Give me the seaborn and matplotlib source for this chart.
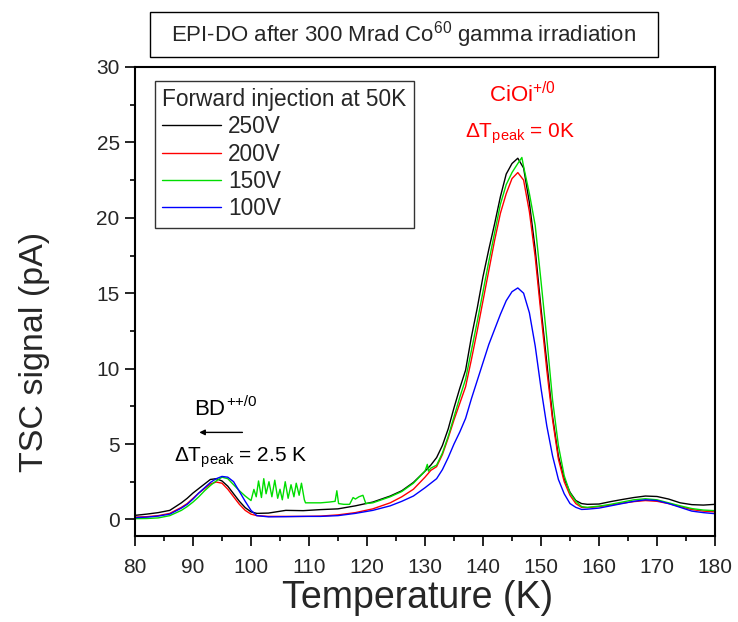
import numpy as np
import pandas as pd
import matplotlib
matplotlib.use("Agg")
import matplotlib.pyplot as plt
import seaborn as sns
from matplotlib.ticker import MultipleLocator
from matplotlib.patches import Rectangle

# ---- data ----
T = [80, 82, 84, 86, 88, 89, 90, 91, 92, 93, 94, 95, 96, 97, 98, 99, 100, 101,
     103, 106, 109, 112, 115, 118, 121, 124, 126, 128, 130, 131, 132, 133, 134,
     135, 136, 137, 138, 139, 140, 141, 142, 143, 144, 145, 146, 147, 148, 149,
     150, 151, 152, 153, 154, 155, 156, 157, 158, 160, 162, 164, 166, 168, 170,
     172, 174, 176, 178, 180]

v250 = [0.27, 0.35, 0.45, 0.6, 1.1, 1.4, 1.75, 2.05, 2.35, 2.65, 2.7, 2.55, 2.2,
        1.7, 1.2, 0.78, 0.5, 0.4, 0.42, 0.6, 0.58, 0.65, 0.7, 0.9, 1.15, 1.55,
        1.9, 2.45, 3.2, 3.6, 4.1, 4.9, 6.0, 7.4, 8.7, 9.9, 12.1, 14.0, 16.1,
        17.9, 19.6, 21.4, 22.9, 23.6, 23.95, 23.3, 21.0, 17.9, 14.0, 10.4, 6.8,
        4.2, 2.7, 1.8, 1.25, 1.05, 1.0, 1.02, 1.18, 1.32, 1.45, 1.55, 1.52,
        1.35, 1.1, 0.98, 0.95, 1.0]

v200 = [0.15, 0.18, 0.25, 0.4, 0.8, 1.05, 1.4, 1.75, 2.05, 2.35, 2.48, 2.4, 2.0,
        1.5, 1.0, 0.6, 0.35, 0.25, 0.2, 0.2, 0.2, 0.22, 0.3, 0.45, 0.7, 1.1,
        1.5, 2.0, 2.8, 3.25, 3.5, 4.3, 5.4, 6.6, 7.7, 8.8, 10.6, 12.5, 14.5,
        16.5, 18.5, 20.3, 21.6, 22.6, 23.0, 22.5, 20.4, 17.4, 13.6, 9.9, 6.6,
        4.0, 2.5, 1.6, 1.05, 0.8, 0.78, 0.85, 0.95, 1.08, 1.18, 1.25, 1.2,
        1.05, 0.85, 0.65, 0.55, 0.5]

v100 = [0.12, 0.15, 0.22, 0.35, 0.75, 1.0, 1.35, 1.75, 2.1, 2.45, 2.7, 2.85, 2.8,
        2.5, 1.85, 1.2, 0.6, 0.25, 0.17, 0.18, 0.2, 0.2, 0.25, 0.4, 0.6, 0.9,
        1.2, 1.55, 2.1, 2.4, 2.7, 3.3, 4.1, 5.0, 5.8, 6.7, 8.0, 9.2, 10.4,
        11.6, 12.6, 13.6, 14.5, 15.1, 15.35, 15.0, 13.7, 11.5, 8.7, 6.2, 4.2,
        2.65, 1.7, 1.05, 0.8, 0.66, 0.68, 0.75, 0.9, 1.05, 1.2, 1.3, 1.25,
        1.05, 0.8, 0.55, 0.45, 0.38]

T150 = [80, 82, 84, 86, 88, 89, 90, 91, 92, 93, 94, 95, 96, 97, 98, 99, 100,
        100.5, 100.9, 101.3, 101.8, 102.2, 102.6, 103.1, 103.6, 104.1, 104.6,
        105.0, 105.4, 105.9, 106.4, 106.9, 107.4, 107.8, 108.3, 108.7, 109.2,
        109.4, 110.5, 112, 113.5, 114.5, 114.8, 115.1, 116, 117, 117.6, 118.0,
        118.6, 119.3, 119.8, 121, 124, 126, 128, 130, 130.4, 130.6, 131, 132,
        133, 134, 135, 136, 137, 138, 139, 140, 141, 142, 143, 144, 145, 146,
        146.7, 147, 148, 149, 150, 151, 152, 153, 154, 155, 156, 157, 158, 160,
        162, 164, 166, 168, 170, 172, 174, 176, 178, 180]

v150 = [0.05, 0.06, 0.1, 0.25, 0.6, 0.85, 1.15, 1.5, 1.9, 2.25, 2.55, 2.8, 2.7,
        2.3, 1.9, 1.55, 1.25,
        1.99, 1.5, 2.55, 1.45, 2.7, 1.7, 2.5, 1.5, 2.6, 1.4,
        2.0, 1.3, 2.5, 1.4, 2.3, 1.5, 2.4, 1.6, 2.4, 1.3,
        1.1, 1.1, 1.1, 1.15, 1.2, 1.9, 1.05, 1.0, 1.0, 1.45, 1.35,
        1.5, 1.6, 1.05, 1.1, 1.5, 1.85, 2.4, 3.2, 3.65, 3.2, 3.4, 3.6,
        4.4, 5.5, 6.8, 8.1, 9.3, 11.2, 13.1, 15.1, 17.1, 19.0, 20.9, 22.2, 23.0, 23.6,
        24.0, 23.4, 21.6, 19.5, 15.8, 12.0, 7.9, 4.9, 2.9, 1.75, 1.2, 0.85, 0.8, 0.88,
        1.0, 1.15, 1.3, 1.37, 1.3, 1.1, 0.9, 0.72, 0.62, 0.58]

labels = ["250V", "200V", "150V", "100V"]
colors = ["#000000", "#ff0000", "#00dd00", "#0000ff"]

df = pd.concat([
    pd.DataFrame({"T": T, "I": v250, "bias": labels[0]}),
    pd.DataFrame({"T": T, "I": v200, "bias": labels[1]}),
    pd.DataFrame({"T": T150, "I": v150, "bias": labels[2]}),
    pd.DataFrame({"T": T, "I": v100, "bias": labels[3]}),
], ignore_index=True)

sns.set_style("white")
plt.rcParams["font.family"] = ["Liberation Sans", "DejaVu Sans"]
plt.rcParams["mathtext.fontset"] = "custom"
plt.rcParams["mathtext.rm"] = "Liberation Sans"
plt.rcParams["mathtext.it"] = "Liberation Sans:italic"
plt.rcParams["mathtext.bf"] = "Liberation Sans:bold"

fig = plt.figure(figsize=(7.38, 6.22), dpi=100)
ax = fig.add_axes([135 / 738, 1 - 536 / 622, 580 / 738, 469 / 622])

sns.lineplot(data=df, x="T", y="I", hue="bias", hue_order=labels,
             palette=dict(zip(labels, colors)), sort=False, estimator=None,
             linewidth=1.0, ax=ax)

ax.set_xlim(80, 180)
ax.xaxis.set_major_locator(MultipleLocator(10))
ax.xaxis.set_minor_locator(MultipleLocator(5))
ax.yaxis.set_minor_locator(MultipleLocator(2.5))
ax.set_yticks([0, 5, 10, 15, 20, 25, 30])
ax.set_ylim(-1.1, 30)
ax.tick_params(which="both", direction="out", bottom=True, left=True,
               top=False, right=False, color="black", width=1.2)
ax.tick_params(which="major", length=7, labelsize=15)
ax.tick_params(axis="x", which="major", pad=9)
ax.tick_params(axis="y", which="major", pad=4)
ax.tick_params(which="minor", length=3.6)
for s in ax.spines.values():
    s.set_color("black")
    s.set_linewidth(1.5)

ax.set_xlabel("Temperature (K)", fontsize=27)
ax.xaxis.label.set_va("center")
ax.xaxis.set_label_coords(0.488, (536 - 598) / 469)
ax.set_ylabel("TSC signal (pA)", fontsize=24.5)
ax.yaxis.label.set_va("center")
ax.yaxis.set_label_coords((35 - 135) / 580, 0.392)

leg = ax.legend(title="Forward injection at 50K", loc="upper left",
                bbox_to_anchor=(20 / 580, 1 - 13.5 / 469), fontsize=16.3,
                title_fontsize=16.3, frameon=True, fancybox=False,
                edgecolor="black", handlelength=2.6, handletextpad=0.3,
                labelspacing=0.19, borderpad=0.33, borderaxespad=0.0)
leg._legend_box.align = "left"
leg.get_frame().set_linewidth(1.0)

ax.text(146.8, 28.2, r"CiOi$^{\mathrm{+/0}}$", color="red", fontsize=16,
        ha="center", va="center")
ax.text(146.4, 25.6, r"ΔT$_{\mathrm{peak}}$ = 0K", color="red",
        fontsize=15, ha="center", va="center")
bd = ax.text(90.2, 7.3, "BD", color="black", fontsize=16,
             ha="left", va="center")
ax.annotate("++/0", xy=(1, 1), xycoords=bd, xytext=(0.5, 3),
            textcoords="offset points", ha="left", va="top",
            fontsize=11, color="black")
ax.annotate("", xy=(90.6, 5.77), xytext=(99.0, 5.77),
            arrowprops=dict(arrowstyle="-|>", color="black", lw=1.0,
                            mutation_scale=8))
ax.text(98.2, 4.1, r"ΔT$_{\mathrm{peak}}$ = 2.5 K", color="black",
        fontsize=15, ha="center", va="center")

fig.patches.append(Rectangle((150 / 738, 1 - 57 / 622), 508 / 738, 45 / 622,
                             transform=fig.transFigure, fc="white",
                             ec="black", lw=1.0))
fig.text(404 / 738, 1 - 35 / 622,
         r"EPI-DO after 300 Mrad Co$^{\mathrm{60}}$ gamma irradiation",
         fontsize=16, ha="center", va="center")

fig.savefig("out.png", dpi=100)
